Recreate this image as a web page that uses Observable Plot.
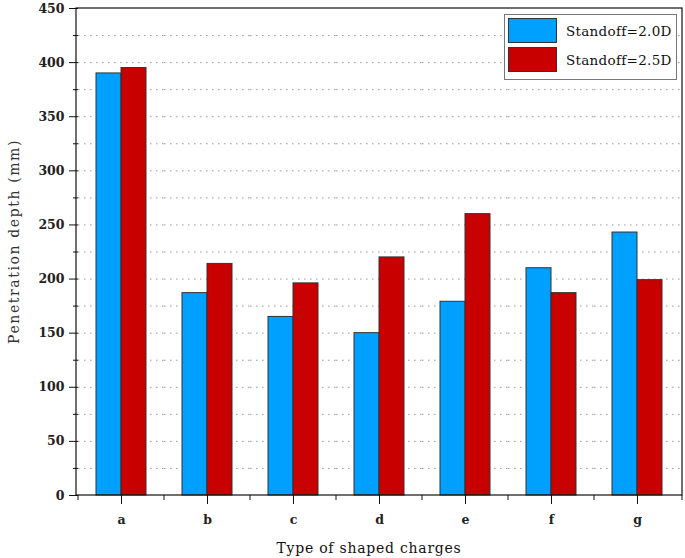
<!DOCTYPE html>
<html>
<head>
<meta charset="utf-8">
<script src="https://cdn.jsdelivr.net/npm/d3@7"></script>
<script src="https://cdn.jsdelivr.net/npm/@observablehq/plot@0.6"></script>
<style>
  html, body { margin: 0; padding: 0; background: #fff; }
  #wrap { position: relative; width: 685px; height: 558px; }
  #legend {
    position: absolute; left: 504px; top: 14px; width: 173px; height: 66px;
    border: 1px solid #777; background: #fff; box-sizing: border-box;
    font-family: "DejaVu Serif", serif; font-size: 13.5px; color: #111; letter-spacing: 0.3px;
  }
  .item { position: absolute; left: 3px; height: 25px; display: flex; align-items: center; white-space: nowrap; }
  .sw { width: 49px; height: 25px; box-sizing: border-box; border: 1px solid #333; margin-right: 9px; }
</style>
</head>
<body>
<div id="wrap"></div>
<script>
const categories = ["a", "b", "c", "d", "e", "f", "g"];
const series = ["Standoff=2.0D", "Standoff=2.5D"];
const standoff20 = [390, 187, 165, 150, 179, 210, 243];
const standoff25 = [395, 214, 196, 220, 260, 187, 199];
const yMajorTicks = [0, 50, 100, 150, 200, 250, 300, 350, 400, 450];
const yMinorTicks = [25, 75, 125, 175, 225, 275, 325, 375, 425];
const gridTicks = [25, 50, 75, 100, 125, 150, 175, 200, 225, 250, 275, 300, 325, 350, 375, 400, 425];
const colors = ["#00A0FF", "#C80000"];
const xLabel = "Type of shaped charges";
const yLabel = "Penetration depth (mm)";

const data = categories.flatMap((c, i) => [
  {cat: c, s: series[0], v: standoff20[i]},
  {cat: c, s: series[1], v: standoff25[i]}
]);

const chart = Plot.plot({
  width: 685,
  height: 558,
  marginLeft: 76,
  marginRight: 3,
  marginTop: 8,
  marginBottom: 63,
  style: {fontFamily: "DejaVu Serif, serif", fontSize: "12.5px", fontWeight: "bold", color: "#222", background: "#fff"},
  fx: {domain: categories, padding: 0},
  x: {domain: series, paddingInner: 0, paddingOuter: 0.7},
  y: {domain: [0, 450]},
  color: {domain: series, range: colors},
  marks: [
    Plot.gridY(gridTicks, {stroke: "#999", strokeOpacity: 1, strokeDasharray: "1.5,4.5"}),
    Plot.barY(data, {fx: "cat", x: "s", y: "v", fill: "s", stroke: "#333", strokeWidth: 1}),
    Plot.axisY(yMajorTicks, {tickSize: 9, tickPadding: 5, label: null, stroke: "#111"}),
    Plot.axisY(yMinorTicks, {tickSize: 5, text: null, label: null, stroke: "#111"}),
    Plot.axisFx({anchor: "bottom", tickSize: 9, tickPadding: 11, label: null, stroke: "#111"}),
    Plot.axisX({ticks: [], label: null})
  ]
});

document.getElementById("wrap").appendChild(chart);

// frame, boundary ticks and axis titles via the plot's own scales
const fxScale = chart.scale("fx");
const yScale = chart.scale("y");
const svgSel = d3.select(chart);
const frameLeft = fxScale.range[0], frameRight = fxScale.range[1];
const frameTop = yScale.apply(450), frameBottom = yScale.apply(0);
svgSel.append("rect")
  .attr("x", frameLeft).attr("y", frameTop)
  .attr("width", frameRight - frameLeft).attr("height", frameBottom - frameTop)
  .attr("fill", "none").attr("stroke", "#111").attr("stroke-width", 1.2);
const bounds = categories.map(c => fxScale.apply(c)).concat([frameRight]);
svgSel.append("g").selectAll("line").data(bounds).join("line")
  .attr("x1", d => d).attr("x2", d => d)
  .attr("y1", frameBottom).attr("y2", frameBottom + 5)
  .attr("stroke", "#111");
svgSel.append("text")
  .attr("x", (frameLeft + frameRight) / 2 - 10).attr("y", frameBottom + 58)
  .attr("text-anchor", "middle")
  .attr("font-family", "DejaVu Serif, serif").attr("font-size", 14).attr("font-weight", "normal")
  .attr("letter-spacing", "0.75px").attr("fill", "#111")
  .text(xLabel);
svgSel.append("text")
  .attr("transform", `translate(${frameLeft - 57},${(frameTop + frameBottom) / 2 - 10}) rotate(-90)`)
  .attr("text-anchor", "middle")
  .attr("font-family", "DejaVu Serif, serif").attr("font-size", 14).attr("font-weight", "normal")
  .attr("letter-spacing", "1.6px").attr("fill", "#333")
  .text(yLabel);

// legend
const legend = document.createElement("div");
legend.id = "legend";
series.forEach((s, i) => {
  const it = document.createElement("div");
  it.className = "item";
  it.style.top = (3 + i * 29) + "px";
  it.innerHTML = `<div class="sw" style="background:${colors[i]}"></div><span>${s}</span>`;
  legend.appendChild(it);
});
document.getElementById("wrap").appendChild(legend);
</script>
</body>
</html>
